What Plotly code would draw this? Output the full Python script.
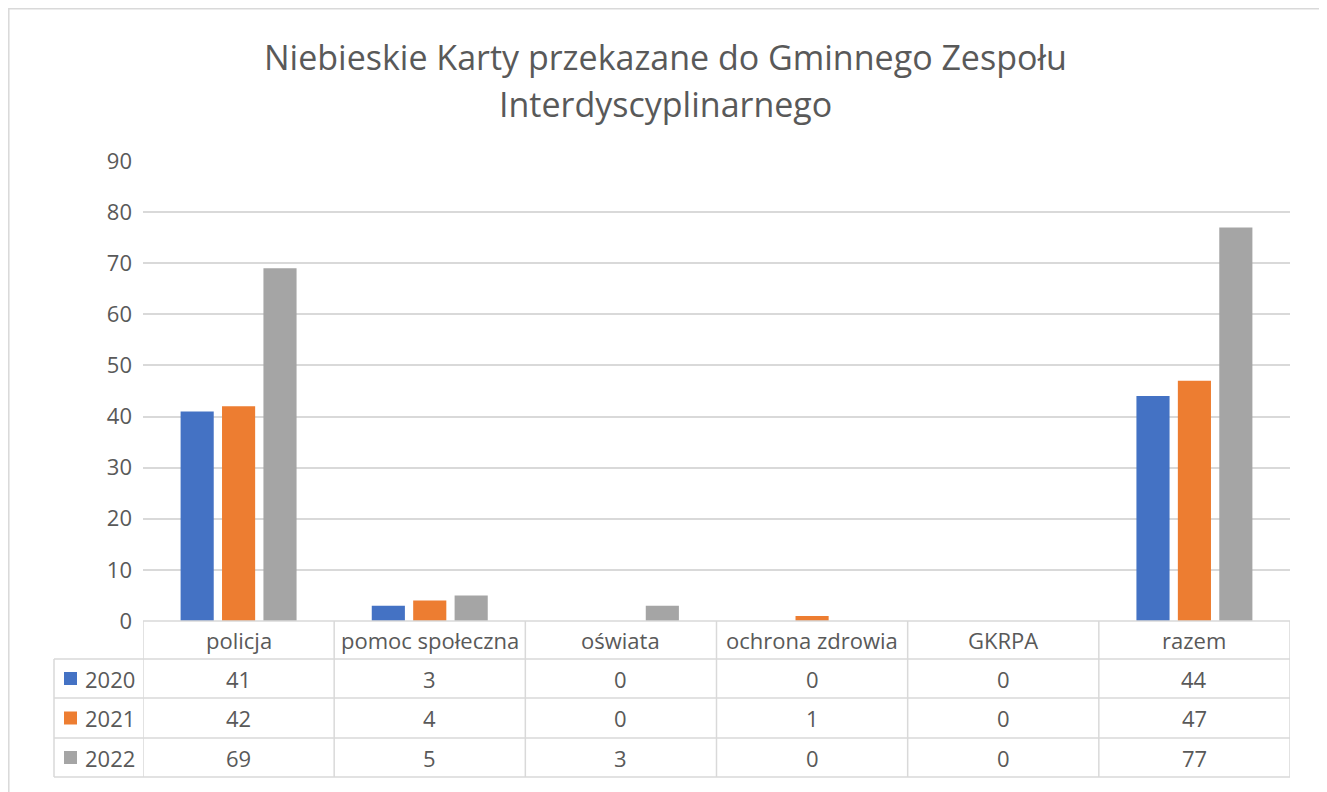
import plotly.graph_objects as go

categories = ["policja", "pomoc społeczna", "oświata", "ochrona zdrowia", "GKRPA", "razem"]
years = ["2020", "2021", "2022"]
values_2020 = [41, 3, 0, 0, 0, 44]
values_2021 = [42, 4, 0, 1, 0, 47]
values_2022 = [69, 5, 3, 0, 0, 77]
colors = ["#4472C4", "#ED7D31", "#A5A5A5"]
title_lines = ["Niebieskie Karty przekazane do Gminnego Zespołu", "Interdyscyplinarnego"]

series = [values_2020, values_2021, values_2022]

OFF = 8  # page body margin
W, H = 1327 - OFF, 792 - OFF
# plot area in screen pixels (reference)
L, R, T, B = 143, 1290, 161, 621
TEXT = "#595959"
GRID = "#D9D9D9"
FONT = "Open Sans"


def px_x(px):
    return (px - L) / (R - L)


def px_y(py):
    return (B - py) / (B - T)


fig = go.Figure()
for name, vals, col in zip(years, series, colors):
    fig.add_trace(go.Bar(x=categories, y=vals, name=name, marker_color=col,
                         marker_line_width=0))

shapes = []
annotations = []

# outer chart border (clamped to figure edge)
shapes.append(dict(type="rect", xref="paper", yref="paper",
                   x0=px_x(OFF + 0.8), x1=px_x(1320), y0=px_y(800), y1=px_y(OFF + 0.8),
                   line=dict(color="#D9D9D9", width=1.5), layer="below"))

# title lines
for ty, line in zip([57, 104], title_lines):
    annotations.append(dict(x=px_x(665), y=px_y(ty), xref="paper", yref="paper", text=line,
                            showarrow=False, font=dict(size=34, color=TEXT, family=FONT),
                            xanchor="center", yanchor="middle"))

# table grid
row_edges = [621, 659, 698, 738, 777]
n = len(categories)
for i in range(n + 1):
    shapes.append(dict(type="line", xref="x", yref="paper",
                       x0=i - 0.5, x1=i - 0.5, y0=px_y(row_edges[0]), y1=px_y(row_edges[-1]),
                       line=dict(color=GRID, width=1.5)))
shapes.append(dict(type="line", xref="paper", yref="paper",
                   x0=px_x(54), x1=px_x(54), y0=px_y(row_edges[1]), y1=px_y(row_edges[-1]),
                   line=dict(color=GRID, width=1.5)))
shapes.append(dict(type="line", xref="paper", yref="paper",
                   x0=0, x1=1, y0=px_y(row_edges[0]), y1=px_y(row_edges[0]),
                   line=dict(color=GRID, width=1.5)))
for ry in row_edges[1:]:
    shapes.append(dict(type="line", xref="paper", yref="paper",
                       x0=px_x(54), x1=1, y0=px_y(ry), y1=px_y(ry),
                       line=dict(color=GRID, width=1.5)))

fsize = 22
hc = (row_edges[0] + row_edges[1]) / 2
for c in categories:
    annotations.append(dict(x=c, y=px_y(hc), xref="x", yref="paper", text=c,
                            showarrow=False, font=dict(size=fsize, color=TEXT, family=FONT),
                            xanchor="center", yanchor="middle"))
for r, (name, vals, col) in enumerate(zip(years, series, colors)):
    cy = (row_edges[r + 1] + row_edges[r + 2]) / 2
    for c, v in zip(categories, vals):
        annotations.append(dict(x=c, y=px_y(cy), xref="x", yref="paper", text=str(v),
                                showarrow=False, font=dict(size=fsize, color=TEXT, family=FONT),
                                xanchor="center", yanchor="middle"))
    shapes.append(dict(type="rect", xref="paper", yref="paper",
                       x0=px_x(64), x1=px_x(77), y0=px_y(cy + 6.5), y1=px_y(cy - 6.5),
                       fillcolor=col, line=dict(width=0)))
    annotations.append(dict(x=px_x(83), y=px_y(cy), xref="paper", yref="paper", text=name,
                            showarrow=False, font=dict(size=fsize, color=TEXT, family=FONT),
                            xanchor="left", yanchor="middle"))

fig.update_layout(
    width=W, height=H,
    margin=dict(l=L - OFF, r=W - (R - OFF), t=T - OFF, b=H - (B - OFF)),
    paper_bgcolor="white", plot_bgcolor="white",
    barmode="group", bargap=0.35, bargroupgap=0.2,
    showlegend=False,
    font=dict(family=FONT, color=TEXT),
    xaxis=dict(range=[-0.5, n - 0.5], showticklabels=False, showgrid=False,
               zeroline=False, showline=False, ticks=""),
    yaxis=dict(range=[0, 90], dtick=10, tick0=0, showgrid=True, gridcolor=GRID,
               gridwidth=1.5, zeroline=False, showline=False, ticks="",
               tickfont=dict(size=22, color=TEXT, family=FONT), ticklabelstandoff=10),
    shapes=shapes, annotations=annotations,
)

fig.write_html("out.html")
